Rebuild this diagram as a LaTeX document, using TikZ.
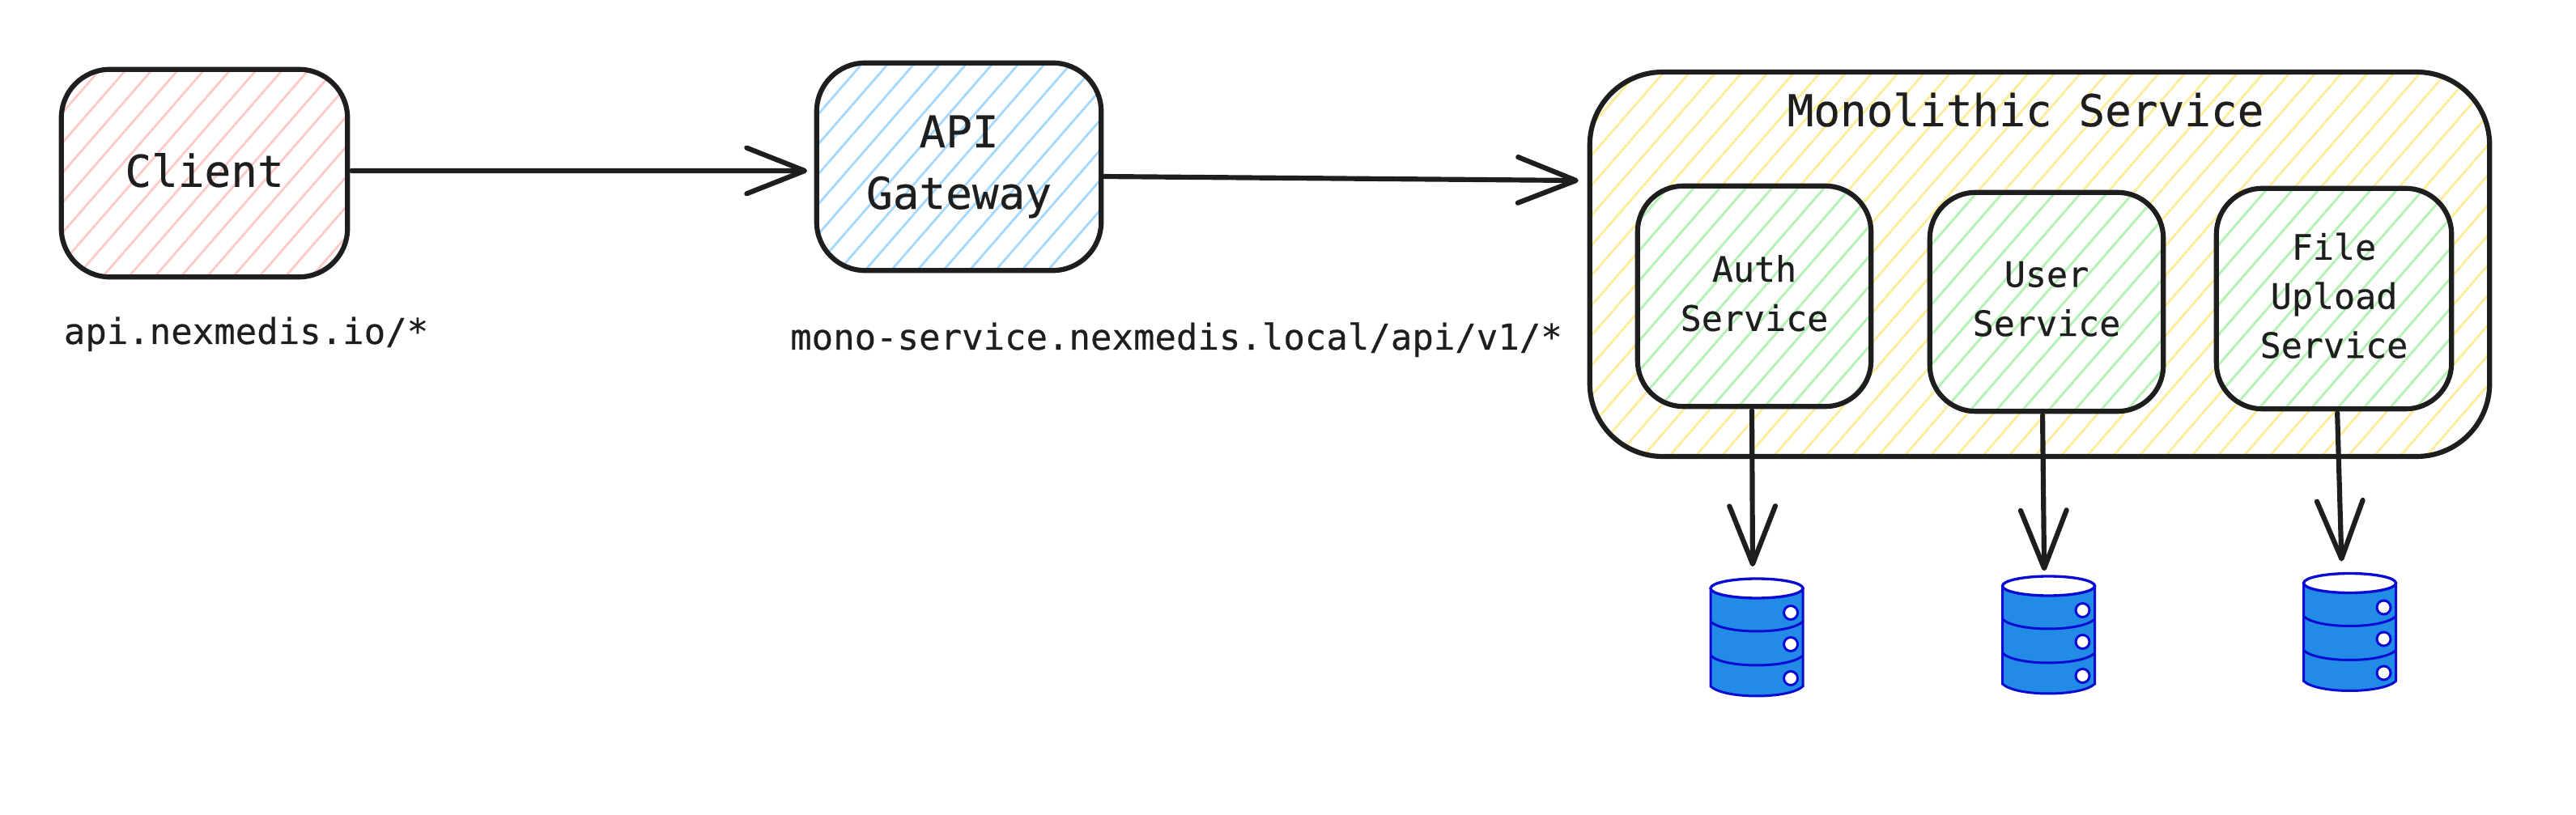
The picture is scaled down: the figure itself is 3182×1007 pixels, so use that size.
\documentclass[tikz,border=0pt]{standalone}
\usepackage{fontspec}
\setmainfont{DejaVu Sans Mono}[FakeBold=0.35]
\usetikzlibrary{arrows.meta,patterns.meta}
\definecolor{inkblack}{HTML}{1E1E1E}
\definecolor{hatchred}{HTML}{FFC9C9}
\definecolor{hatchblue}{HTML}{A5D8FF}
\definecolor{hatchyellow}{HTML}{FFEC99}
\definecolor{hatchgreen}{HTML}{B2F2BB}
\definecolor{dbfill}{HTML}{228BE6}
\definecolor{dbline}{HTML}{0A0AD2}
\tikzset{
  boxsize/.style 2 args={minimum width=#1*.3pt,minimum height=#2*.3pt},
  hatched/.style={draw=inkblack,line width=1.85pt,outer sep=0pt,inner sep=0pt,align=center,text=inkblack,
    pattern={Lines[angle=49,distance=7.3pt,line width=.85pt]},pattern color=#1},
  bigtext/.style={font=\fontsize{16.3}{22.8}\selectfont},
  smalltext/.style={font=\fontsize{13}{18.2}\selectfont},
  note/.style={font=\fontsize{13.2}{18.2}\selectfont,anchor=base,text=inkblack,inner sep=0pt},
  conn/.style={draw=inkblack,line width=1.85pt,line cap=round,
    -{Straight Barb[length=21.5pt,width=17pt,line width=1.85pt,round]}},
  dbicon/.pic={
    \draw [dbline,fill=dbfill,line width=.9pt] (-57,-60.5) -- (-57,60.5)
      .. controls (-40,76.5) and (40,76.5) .. (57,60.5) -- (57,-60.5) -- cycle;
    \draw [dbline,fill=white,line width=1pt] (0,-60.5) ellipse [x radius=57,y radius=12];
    \draw [dbline,line width=.9pt] (-57,-19.5) .. controls (-40,-3.5) and (40,-3.5) .. (57,-19.5);
    \draw [dbline,line width=.9pt] (-57,22.5) .. controls (-40,38.5) and (40,38.5) .. (57,22.5);
    \foreach \holey in {-30.5,8.5,50.5}
      \draw [dbline,fill=white,line width=.9pt] (42,\holey) circle (8.5);
  }
}
\begin{document}
\begin{tikzpicture}[x=.3pt,y=-.3pt]
\useasboundingbox (0,0) rectangle (3182,1007);
% left boxes
\node (client) [hatched=hatchred,boxsize={353.5}{256.5},rounded corners=18pt,bigtext,text depth=2.4pt] at (252.5,214) {Client};
\node (gateway) [hatched=hatchblue,boxsize={351.5}{256.5},rounded corners=18pt,bigtext] at (1184.5,206) {API\\Gateway};
\node (apilabel) [note] at (304,425) {api.nexmedis.io/*};
\node (monolabel) [note] at (1453,432) {mono-service.nexmedis.local/api/v1/*};
% monolith
\node (mono) [hatched=hatchyellow,boxsize={1111.5}{475},rounded corners=27pt] at (2519.5,326.5) {};
\node (monotitle) [bigtext,anchor=base,text=inkblack,inner sep=0pt] at (2502,156) {Monolithic Service};
\node (auth) [hatched=hatchgreen,boxsize={288.5}{272.5},rounded corners=17pt,smalltext,text depth=2.4pt] at (2167,366) {Auth\\Service};
\node (user) [hatched=hatchgreen,boxsize={288.5}{270.5},rounded corners=17pt,smalltext,text depth=2.4pt] at (2528,373) {User\\Service};
\node (upload) [hatched=hatchgreen,boxsize={290.5}{272.5},rounded corners=17pt,smalltext,text depth=2.4pt] at (2883,369) {File\\Upload\\Service};
% databases
\foreach \dbname/\dbx/\dby in {dbauth/2170/787.5,dbuser/2530.5/784.5,dbupload/2902.5/781}{
  \node (\dbname) [boxsize={114}{145},inner sep=0pt,outer sep=0pt] at (\dbx,\dby) {};
  \pic at (\dbname) {dbicon};
}
% arrows
\draw [conn,shorten <=1.5pt,shorten >=3.5pt] ([yshift=.9pt]client.east) -- ([yshift=-1.5pt]gateway.west);
\draw [conn,shorten <=1.2pt,shorten >=4.2pt] ([yshift=-3.6pt]gateway.east) -- ([yshift=31pt]mono.west);
\draw [conn,shorten <=1.5pt,shorten >=4.5pt] ([xshift=-.9pt]auth.south) -- ([xshift=-1.5pt]dbauth.north);
\draw [conn,shorten <=1.5pt,shorten >=2pt] ([xshift=-1.5pt]user.south) -- ([xshift=-1.6pt]dbuser.north);
\draw [conn,shorten <=1.5pt,shorten >=4.5pt] ([xshift=1.2pt]upload.south) -- ([xshift=-2.9pt]dbupload.north);
\end{tikzpicture}
\end{document}
